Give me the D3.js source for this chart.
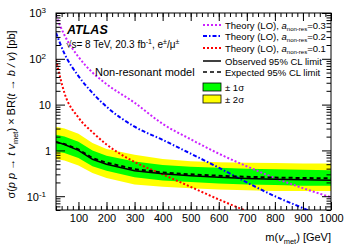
<!DOCTYPE html>
<html>
<head>
<meta charset="utf-8">
<script src="https://cdn.jsdelivr.net/npm/d3@7"></script>
<style>
  body { margin: 0; background: #fff; }
  svg { font-family: "Liberation Sans", Arial, sans-serif; }
  .axis text { font-size: 11px; fill: #000; }
  .axis line { stroke: #000; }
</style>
</head>
<body>
<svg id="chart" width="349" height="251"></svg>
<script>
// mass points (GeV)
const mass = [20, 50, 100, 150, 200, 300, 400, 500, 600, 700, 800, 900, 1000];

// limits [pb]
const observed = [1.55, 1.35, 1.0, 0.64, 0.50, 0.36, 0.31, 0.28, 0.26, 0.245, 0.235, 0.228, 0.224];
const expected = [1.50, 1.38, 1.05, 0.68, 0.54, 0.39, 0.33, 0.30, 0.28, 0.265, 0.255, 0.25, 0.245];
const oneSigUp = [2.2, 2.0, 1.55, 1.0, 0.76, 0.57, 0.48, 0.44, 0.42, 0.40, 0.39, 0.38, 0.37];
const oneSigDn = [0.95, 0.88, 0.68, 0.45, 0.36, 0.26, 0.22, 0.205, 0.19, 0.18, 0.175, 0.17, 0.17];
const twoSigUp = [3.3, 3.0, 2.3, 1.45, 1.08, 0.80, 0.65, 0.58, 0.55, 0.54, 0.53, 0.52, 0.52];
const twoSigDn = [0.65, 0.60, 0.47, 0.32, 0.25, 0.18, 0.16, 0.15, 0.14, 0.135, 0.13, 0.13, 0.13];

// theory (LO)
const theory03 = [870, 330, 110, 50, 28, 11, 3.8, 1.75, 0.85, 0.45, 0.25, 0.15, 0.095];
const theory02 = [370, 130, 42, 18, 9, 3.3, 1.7, 0.85, 0.42, 0.2, 0.1, 0.055, 0.03];
const theory01 = [95, 18, 5.2, 2.5, 1.35, 0.56, 0.30, 0.16, 0.085, 0.047, 0.026, 0.015, 0.009];

const xTicks = [100, 200, 300, 400, 500, 600, 700, 800, 900, 1000];
const yTicks = [0.1, 1, 10, 100, 1000];

const margin = {left: 56, right: 18, top: 13, bottom: 41};
const width = 349, height = 251;

const svg = d3.select("#chart");

let x = d3.scaleLinear().domain([20, 1000]).range([margin.left, width - margin.right]);
let y = d3.scaleLog().domain([0.05, 1000]).range([height - margin.bottom, margin.top]);

svg.append("clipPath").attr("id", "clip")
    .append("rect")
    .attr("x", margin.left).attr("y", margin.top)
    .attr("width", width - margin.left - margin.right)
    .attr("height", height - margin.top - margin.bottom);

const plot = svg.append("g").attr("clip-path", "url(#clip)");

// bands
let band = (up, dn) => d3.area()
    .x((d, i) => x(mass[i]))
    .y0((d, i) => y(dn[i]))
    .y1((d, i) => y(up[i]));

plot.append("path").datum(mass).attr("d", band(twoSigUp, twoSigDn)).attr("fill", "#ffff00");
plot.append("path").datum(mass).attr("d", band(oneSigUp, oneSigDn)).attr("fill", "#00ff00");

let line = d3.line().x((d, i) => x(mass[i])).y(d => y(d));
let smooth = d3.line().x((d, i) => x(mass[i])).y(d => y(d)).curve(d3.curveMonotoneX);

const magenta = "#cc22ff", dotted = "2,2", dashdot = "4,2,1.5,2";

// theory curves
plot.append("path").datum(theory03).attr("d", smooth).attr("fill", "none")
    .attr("stroke", magenta).attr("stroke-width", 2).attr("stroke-dasharray", dotted);
plot.append("path").datum(theory02).attr("d", smooth).attr("fill", "none")
    .attr("stroke", "#0000ff").attr("stroke-width", 2).attr("stroke-dasharray", dashdot);
plot.append("path").datum(theory01).attr("d", smooth).attr("fill", "none")
    .attr("stroke", "#ff0000").attr("stroke-width", 2).attr("stroke-dasharray", dotted);

// limits
plot.append("path").datum(expected).attr("d", line).attr("fill", "none")
    .attr("stroke", "#000").attr("stroke-width", 2).attr("stroke-dasharray", "4,3");
plot.append("path").datum(observed).attr("d", line).attr("fill", "none")
    .attr("stroke", "#000").attr("stroke-width", 1.5);

// axes
const bottom = height - margin.bottom, right = width - margin.right;

let xMinor = d3.range(20, 1001, 20);
svg.append("g").attr("class", "axis").attr("transform", `translate(0,${bottom})`)
    .call(d3.axisBottom(x).tickValues(xTicks).tickSize(-8).tickPadding(4).tickFormat(d3.format("d")))
    .call(g => g.select(".domain").remove());
svg.append("g").attr("class", "axis").attr("transform", `translate(0,${bottom})`)
    .call(d3.axisBottom(x).tickValues(xMinor).tickSize(-4).tickFormat(""))
    .call(g => g.select(".domain").remove());
svg.append("g").attr("class", "axis").attr("transform", `translate(0,${margin.top})`)
    .call(d3.axisTop(x).tickValues(xTicks).tickSize(-8).tickFormat(""))
    .call(g => g.select(".domain").remove());
svg.append("g").attr("class", "axis").attr("transform", `translate(0,${margin.top})`)
    .call(d3.axisTop(x).tickValues(xMinor).tickSize(-4).tickFormat(""))
    .call(g => g.select(".domain").remove());

let yMinor = [];
[0.01, 0.1, 1, 10, 100].forEach(dec => {
    for (let k = 2; k <= 9; k++) {
        let v = dec * k;
        if (v >= 0.05 && v <= 1000) yMinor.push(v);
    }
});

const supLabel = {0.1: ["10", "-1"], 1: ["1", ""], 10: ["10", ""], 100: ["10", "2"], 1000: ["10", "3"]};

svg.append("g").attr("class", "axis").attr("transform", `translate(${margin.left},0)`)
    .call(d3.axisLeft(y).tickValues(yTicks).tickSize(-9).tickPadding(5).tickFormat(""))
    .call(g => g.select(".domain").remove())
    .call(g => g.selectAll(".tick text").each(function (d) {
        let t = d3.select(this);
        let lab = supLabel[d];
        t.text(null).attr("dy", "0.35em");
        if (lab[1]) {
            t.attr("dx", "-5px");
        }
        t.append("tspan").text(lab[0]);
        if (lab[1]) {
            t.append("tspan").attr("dy", "-0.5em").attr("font-size", "8px").text(lab[1]);
        }
    }));
svg.append("g").attr("class", "axis").attr("transform", `translate(${margin.left},0)`)
    .call(d3.axisLeft(y).tickValues(yMinor).tickSize(-4.5).tickFormat(""))
    .call(g => g.select(".domain").remove());
svg.append("g").attr("class", "axis").attr("transform", `translate(${right},0)`)
    .call(d3.axisRight(y).tickValues(yTicks).tickSize(-9).tickFormat(""))
    .call(g => g.select(".domain").remove());
svg.append("g").attr("class", "axis").attr("transform", `translate(${right},0)`)
    .call(d3.axisRight(y).tickValues(yMinor).tickSize(-4.5).tickFormat(""))
    .call(g => g.select(".domain").remove());

// frame
svg.append("rect")
    .attr("x", margin.left).attr("y", margin.top)
    .attr("width", right - margin.left).attr("height", bottom - margin.top)
    .attr("fill", "none").attr("stroke", "#000").attr("stroke-width", 1);

// axis titles
let xt = svg.append("text").attr("x", right).attr("y", 241).attr("text-anchor", "end").attr("font-size", "11px");
xt.append("tspan").text("m(");
xt.append("tspan").attr("font-style", "italic").text("v");
xt.append("tspan").attr("font-size", "7.5px").attr("dy", "2.5").text("met");
xt.append("tspan").attr("dy", "-2.5").text(") [GeV]");

let yt = svg.append("text").attr("transform", `translate(15,${(margin.top + bottom) / 2 + 3}) rotate(-90)`)
    .attr("text-anchor", "middle").attr("font-size", "11px");
yt.append("tspan").text("σ(");
yt.append("tspan").attr("font-style", "italic").text("p p");
yt.append("tspan").text(" → ");
yt.append("tspan").attr("font-style", "italic").text("t v");
yt.append("tspan").attr("font-size", "7.5px").attr("dy", "2.5").text("met");
yt.append("tspan").attr("dy", "-2.5").text(") × BR(");
yt.append("tspan").attr("font-style", "italic").text("t");
yt.append("tspan").text(" → ");
yt.append("tspan").attr("font-style", "italic").text("b / v");
yt.append("tspan").text(") [pb]");

// labels
svg.append("text").attr("x", 67).attr("y", 34).attr("font-size", "12.5px")
    .attr("font-weight", "bold").attr("font-style", "italic").text("ATLAS");
let en = svg.append("text").attr("x", 66).attr("y", 48).attr("font-size", "10px");
en.append("tspan").text("√s= 8 TeV, 20.3 fb");
en.append("tspan").attr("font-size", "7px").attr("dy", "-4").text("-1");
en.append("tspan").attr("dy", "4").text(", e");
en.append("tspan").attr("font-size", "7px").attr("dy", "-4").text("±");
en.append("tspan").attr("dy", "4").text("/μ");
en.append("tspan").attr("font-size", "7px").attr("dy", "-4").text("±");
svg.append("text").attr("x", 95).attr("y", 76).attr("font-size", "11px").text("Non-resonant model");

// legend
const legend = svg.append("g").attr("font-size", "9.5px");
const lx0 = 203, lx1 = 221, tx = 225;
let legLines = [
    {y: 25, color: magenta, dash: dotted, a: "0.3"},
    {y: 36, color: "#0000ff", dash: dashdot, a: "0.2"},
    {y: 48, color: "#ff0000", dash: dotted, a: "0.1"}
];
legLines.forEach(d => {
    legend.append("line").attr("x1", lx0).attr("x2", lx1).attr("y1", d.y).attr("y2", d.y)
        .attr("stroke", d.color).attr("stroke-width", 2).attr("stroke-dasharray", d.dash);
    let t = legend.append("text").attr("x", tx).attr("y", d.y + 3.5);
    t.append("tspan").text("Theory (LO), ");
    t.append("tspan").attr("font-style", "italic").text("a");
    t.append("tspan").attr("font-size", "6px").attr("dy", "2").text("non-res");
    t.append("tspan").attr("dy", "-2").text("=" + d.a);
});
legend.append("line").attr("x1", lx0).attr("x2", lx1).attr("y1", 61).attr("y2", 61)
    .attr("stroke", "#000").attr("stroke-width", 1.5);
legend.append("text").attr("x", tx).attr("y", 64.5).text("Observed 95% CL limit");
legend.append("line").attr("x1", lx0).attr("x2", lx1).attr("y1", 72).attr("y2", 72)
    .attr("stroke", "#000").attr("stroke-width", 1.5).attr("stroke-dasharray", "4,3");
legend.append("text").attr("x", tx).attr("y", 75.5).text("Expected 95% CL limit");
legend.append("rect").attr("x", lx0).attr("y", 83).attr("width", lx1 - lx0).attr("height", 8)
    .attr("fill", "#00ff00").attr("stroke", "#000").attr("stroke-width", 0.8);
legend.append("text").attr("x", tx).attr("y", 90.5).text("± 1σ");
legend.append("rect").attr("x", lx0).attr("y", 95).attr("width", lx1 - lx0).attr("height", 8)
    .attr("fill", "#ffff00").attr("stroke", "#000").attr("stroke-width", 0.8);
legend.append("text").attr("x", tx).attr("y", 102.5).text("± 2σ");
</script>
</body>
</html>
